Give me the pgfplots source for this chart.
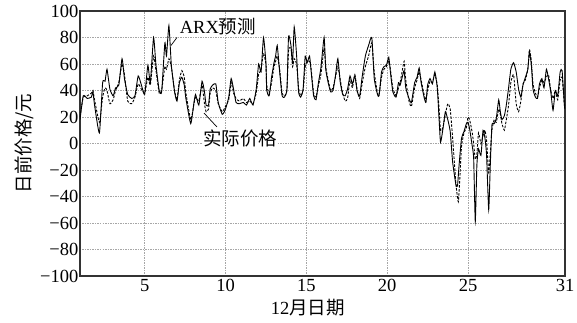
\documentclass[border=0pt]{standalone}
\usepackage{fontspec}
\setmainfont{Liberation Serif}
\newfontfamily\cjk{Noto Sans CJK SC}
\usepackage{pgfplots}
\pgfplotsset{compat=1.18}
\newcommand{\fs}{\fontsize{18.5}{22}\selectfont}
\begin{document}
\begin{tikzpicture}
\begin{axis}[
  scale only axis,
  width=485pt, height=265pt,
  xmin=1, xmax=31, ymin=-100, ymax=100,
  xtick={5,10,15,20,25,31},
  xticklabels={5,10,15,20,25,31},
  ytick={-100,-80,-60,-40,-20,0,20,40,60,80,100},
  yticklabels={−100,−80,−60,−40,−20,0,20,40,60,80,100},
  tick label style={font=\fs},
  yticklabel style={inner xsep=1.5pt},
  major tick length=0pt,
  axis line style={draw=black!80, line width=1.1pt},
  grid=major,
  major grid style={gray!70, line width=0.45pt, dash pattern=on 1.5pt off 1pt},
  xlabel={\fs 12{\cjk 月日期}},
  ylabel={\fs\cjk 日前价格/元},
  every axis x label/.style={at={(axis description cs:0.47,-0.121)}, anchor=center},
  every axis y label/.style={at={(axis description cs:-0.115,0.5)}, anchor=center, rotate=90},
  clip=true,
]
\addplot[black, line width=0.9pt, smooth, tension=0.3] coordinates {
(1.0,18) (1.2,36) (1.45,34) (1.7,35) (1.8,39) (1.9,29) (2.2,8) (2.4,46) (2.55,47) (2.67,56)
(2.85,41) (3.05,36) (3.2,42) (3.4,44) (3.6,64) (3.75,49) (3.95,37) (4.2,34) (4.4,36) (4.6,51)
(4.8,44) (5.0,37) (5.2,59) (5.35,46) (5.55,80) (5.7,59) (5.9,40) (6.05,39) (6.25,76) (6.35,66)
(6.5,89) (6.65,59) (6.85,39) (7.0,32) (7.15,46) (7.3,50) (7.45,44) (7.55,34) (7.85,15) (8.05,31)
(8.15,37) (8.35,29) (8.55,47) (8.7,39) (8.8,29) (8.95,29) (9.05,41) (9.2,44) (9.4,45) (9.55,31)
(9.8,22) (10.0,26) (10.2,35) (10.35,49) (10.5,41) (10.65,31) (10.85,30) (11.1,31) (11.3,29) (11.5,34)
(11.7,29) (11.9,41) (12.05,60) (12.2,54) (12.35,80) (12.5,61) (12.55,40) (12.7,36) (12.85,50) (13.0,61)
(13.1,66) (13.2,74) (13.35,54) (13.5,36) (13.65,35) (13.8,41) (13.9,81) (14.05,74) (14.15,61) (14.25,88)
(14.4,66) (14.52,39) (14.65,35) (14.8,41) (14.93,66) (15.05,61) (15.2,66) (15.3,54) (15.45,36) (15.6,33)
(15.75,46) (15.9,57) (16.1,80) (16.2,56) (16.35,46) (16.5,39) (16.65,40) (16.8,51) (16.95,64) (17.1,46)
(17.25,37) (17.4,36) (17.55,41) (17.7,51) (17.85,45) (18.0,51) (18.15,39) (18.3,36) (18.45,50) (18.65,66)
(18.85,74) (19.05,80) (19.2,49) (19.4,37) (19.5,36) (19.65,54) (19.8,58) (19.95,59) (20.1,65) (20.2,54)
(20.35,39) (20.55,35) (20.7,46) (20.8,44) (20.95,51) (21.05,55) (21.15,42) (21.35,34) (21.5,31) (21.7,46)
(21.85,50) (21.98,57) (22.1,46) (22.3,34) (22.4,31) (22.5,44) (22.65,49) (22.8,45) (22.95,54) (23.1,42)
(23.2,21) (23.3,1) (23.45,11) (23.6,24) (23.75,18) (23.9,9) (24.05,-14) (24.25,-31) (24.35,-32) (24.45,-16)
(24.6,4) (24.75,9) (24.9,15) (25.0,16) (25.1,11) (25.25,-1) (25.35,-11) (25.45,-59) (25.55,-16) (25.65,-4)
(25.8,-9) (25.93,10) (26.05,4) (26.15,-9) (26.28,-50) (26.38,-16) (26.48,14) (26.62,15) (26.75,19) (26.9,33)
(27.0,24) (27.1,18) (27.25,21) (27.37,29) (27.5,41) (27.65,56) (27.82,61) (27.98,54) (28.13,41) (28.27,35)
(28.4,44) (28.55,50) (28.7,56) (28.8,69) (28.92,59) (29.02,41) (29.17,35) (29.3,34) (29.42,45) (29.57,49)
(29.7,42) (29.85,56) (29.98,49) (30.12,39) (30.26,25) (30.4,40) (30.55,36) (30.7,54) (30.82,55) (30.96,29)
(31.0,26)
};
\addplot[black, line width=0.9pt, dash pattern=on 2.5pt off 1.5pt, smooth, tension=0.3] coordinates {
(1.0,20) (1.2,35) (1.45,36) (1.7,38) (1.8,40) (1.9,33) (2.2,16) (2.4,35) (2.55,42) (2.67,40)
(2.85,30) (3.05,33) (3.2,40) (3.4,46) (3.6,60) (3.75,52) (3.95,32) (4.2,30) (4.4,35) (4.6,45)
(4.8,41) (5.0,38) (5.2,50) (5.35,44) (5.55,66) (5.7,55) (5.9,38) (6.05,40) (6.25,58) (6.35,56)
(6.5,64) (6.65,58) (6.85,40) (7.0,33) (7.15,48) (7.3,55) (7.45,50) (7.55,38) (7.85,18) (8.05,30)
(8.15,35) (8.35,32) (8.55,44) (8.7,30) (8.8,24) (8.95,26) (9.05,38) (9.2,42) (9.4,40) (9.55,30)
(9.8,24) (10.0,28) (10.2,33) (10.35,46) (10.5,38) (10.65,34) (10.85,32) (11.1,34) (11.3,31) (11.5,32)
(11.7,30) (11.9,38) (12.05,52) (12.2,56) (12.35,68) (12.5,60) (12.55,44) (12.7,38) (12.85,46) (13.0,58)
(13.1,62) (13.2,66) (13.35,56) (13.5,38) (13.65,36) (13.8,40) (13.9,70) (14.05,72) (14.15,58) (14.25,64)
(14.4,60) (14.52,42) (14.65,36) (14.8,40) (14.93,58) (15.05,62) (15.2,62) (15.3,56) (15.45,38) (15.6,35)
(15.75,44) (15.9,52) (16.1,72) (16.2,58) (16.35,48) (16.5,40) (16.65,42) (16.8,50) (16.95,58) (17.1,48)
(17.25,38) (17.4,32) (17.55,34) (17.7,48) (17.85,42) (18.0,52) (18.15,40) (18.3,34) (18.45,45) (18.65,58)
(18.85,66) (19.05,76) (19.2,54) (19.4,38) (19.5,37) (19.65,50) (19.8,56) (19.95,58) (20.1,62) (20.2,56)
(20.35,42) (20.55,36) (20.7,42) (20.8,46) (20.95,56) (21.05,62) (21.15,48) (21.35,32) (21.5,28) (21.7,42)
(21.85,48) (21.98,54) (22.1,48) (22.3,36) (22.4,33) (22.5,40) (22.65,47) (22.8,46) (22.95,52) (23.1,44)
(23.2,28) (23.3,10) (23.45,12) (23.6,22) (23.75,30) (23.9,26) (24.05,4) (24.25,-30) (24.4,-44) (24.5,-25)
(24.6,-2) (24.75,8) (24.9,12) (25.0,20) (25.1,18) (25.25,9) (25.35,0) (25.45,-12) (25.55,-8) (25.65,8)
(25.8,0) (25.93,6) (26.05,10) (26.15,2) (26.28,-22) (26.38,-8) (26.48,10) (26.62,18) (26.75,16) (26.9,26)
(27.0,22) (27.1,15) (27.25,10) (27.37,18) (27.5,28) (27.65,46) (27.82,52) (27.98,30) (28.13,24) (28.27,32)
(28.4,45) (28.55,48) (28.7,56) (28.8,71) (28.92,62) (29.02,45) (29.17,38) (29.3,35) (29.42,42) (29.57,48)
(29.7,46) (29.85,50) (29.98,52) (30.12,40) (30.26,34) (30.4,40) (30.55,33) (30.7,48) (30.82,50) (30.96,30)
(31.0,28)
};
\node[font=\fs, inner sep=0pt] at (axis cs:9.53,88) {ARX{\cjk 预测}};
\draw[black, line width=0.7pt] (axis cs:6.63,74) -- (axis cs:7.0,80);
\node[font=\fs\cjk, inner sep=0pt, fill=white] at (axis cs:10.9,4) {实际价格};
\draw[black, line width=0.7pt] (axis cs:8.67,23) -- (axis cs:9.47,12.5);
\end{axis}
\pgfresetboundingbox
\path (current axis.south west) ++(-80pt,-46pt) coordinate (bl);
\path (current axis.north east) ++(12pt,11pt) coordinate (tr);
\path[use as bounding box] (bl) rectangle (tr);
\end{tikzpicture}
\end{document}
